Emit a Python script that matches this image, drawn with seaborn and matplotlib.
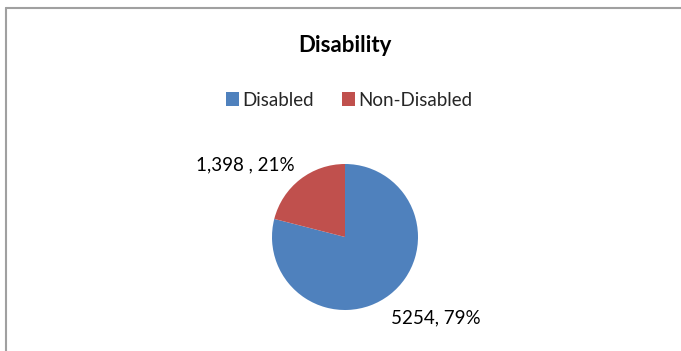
import matplotlib
matplotlib.use("Agg")
import matplotlib.pyplot as plt
from matplotlib.lines import Line2D
from matplotlib.patches import Patch
import numpy as np
import seaborn as sns

# Data
categories = ["Disabled", "Non-Disabled"]
counts = [5254, 1398]
percents = [79, 21]
value_labels = ["5254, 79%", "1,398 , 21%"]

sns.set_theme(style="white")
plt.rcParams["font.family"] = ["Lato", "DejaVu Sans"]

colors = ["#4F81BD", "#C0504D"]

W, H = 681, 351
fig = plt.figure(figsize=(W / 100, H / 100), dpi=100)
fig.patch.set_facecolor("white")

# pie axes: centre (345, 237) px, radius 73 px
cx, cy, r = 345, 237, 73
ax = fig.add_axes([(cx - r) / W, 1 - (cy + r) / H, 2 * r / W, 2 * r / H])
ax.pie(counts, colors=colors, startangle=90, counterclock=False,
       radius=1.0, wedgeprops=dict(linewidth=0))
ax.set_xlim(-1, 1)
ax.set_ylim(-1, 1)
ax.set_aspect("equal")
ax.axis("off")

# data labels, placed outside the wedges
label_pos = [(1.25, -1.11), (-1.37, 0.99)]
for txt, (lx, ly) in zip(value_labels, label_pos):
    ax.text(lx, ly, txt, ha="center", va="center", fontsize=13.5,
            color="black", clip_on=False)

# title
fig.text(cx / W, 1 - 45 / H, "Disability", ha="center", va="center",
         fontsize=16, fontweight="bold", color="black")

# legend
handles = [Patch(facecolor=c, edgecolor="none") for c in colors]
fig.legend(handles, categories, loc="center", bbox_to_anchor=((cx + 4) / W, 1 - 100 / H),
           ncol=2, frameon=False, fontsize=13.5, handlelength=0.7,
           handleheight=0.7, handletextpad=0.15, columnspacing=1.5)

# chart frame (top and left edges)
fig.add_artist(Line2D([5.5 / W, 1.0], [1 - 7.5 / H, 1 - 7.5 / H],
                      transform=fig.transFigure, color="#A0A0A0", linewidth=1.5))
fig.add_artist(Line2D([5.5 / W, 5.5 / W], [0.0, 1 - 7.5 / H],
                      transform=fig.transFigure, color="#A0A0A0", linewidth=1.5))

fig.savefig("out.png", dpi=100, facecolor="white")
